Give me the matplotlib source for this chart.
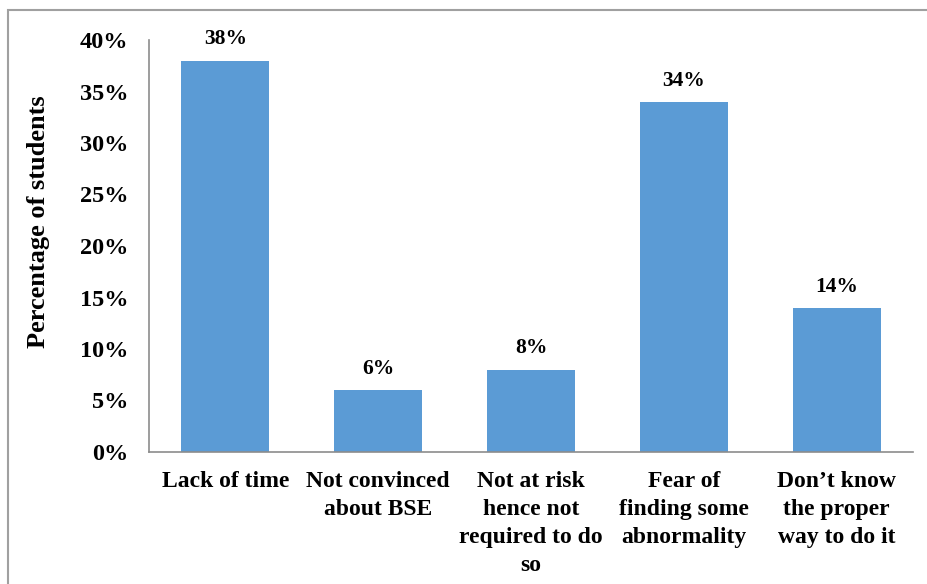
import matplotlib
matplotlib.use("Agg")
import matplotlib.pyplot as plt
from matplotlib.patches import Rectangle
from matplotlib.ticker import FuncFormatter

categories = ["Lack of time", "Not convinced\nabout BSE", "Not at risk\nhence not\nrequired to do\nso",
              "Fear of\nfinding some\nabnormality", "Don\u2019t know\nthe proper\nway to do it"]
values = [38, 6, 8, 34, 14]
yticks = [0, 5, 10, 15, 20, 25, 30, 35, 40]

W, H = 928, 584
fig = plt.figure(figsize=(W/100, H/100), dpi=100)
plt.rcParams['font.family'] = ['Liberation Serif', 'DejaVu Serif']

# outer frame
fig.patches.append(Rectangle((8.5/W, -0.1), 1.2, 1 - 10/H + 0.1, transform=fig.transFigure,
                             fill=False, edgecolor='#a0a0a0', lw=1.5))

ax = fig.add_axes([149/W, 1 - 452/H, (913-149)/W, (452-40)/H])
x = range(len(categories))
bars = ax.bar(x, values, width=0.575, color='#5B9BD5')
ax.set_xlim(-0.5, len(categories) - 0.5)
ax.set_ylim(0, 40)
ax.set_yticks(yticks)
ax.yaxis.set_major_formatter(FuncFormatter(lambda v, p: f"{int(v)}%"))
ax.set_xticks(list(x))
ax.set_xticklabels(categories, fontsize=17, fontweight='bold', linespacing=1.43, va='top')
for lbl in ax.get_yticklabels():
    lbl.set_fontsize(17.5)
    lbl.set_fontweight('bold')
ax.tick_params(axis='both', length=0)
ax.tick_params(axis='y', pad=15)
ax.tick_params(axis='x', pad=14)
for s in ['top', 'right']:
    ax.spines[s].set_visible(False)
for s in ['left', 'bottom']:
    ax.spines[s].set_color('#8c8c8c')
    ax.spines[s].set_linewidth(1.2)

for xi, v in zip(x, values):
    ax.annotate(f"{v}%", (xi, v), xytext=(0, 8), textcoords='offset points',
                ha='center', va='bottom', fontsize=15.5, fontweight='bold')

fig.text(39/W, 1 - 222/H, "Percentage of students", rotation=90, ha='center', va='center',
         fontsize=19, fontweight='bold')

fig.savefig("out.png", dpi=100)
